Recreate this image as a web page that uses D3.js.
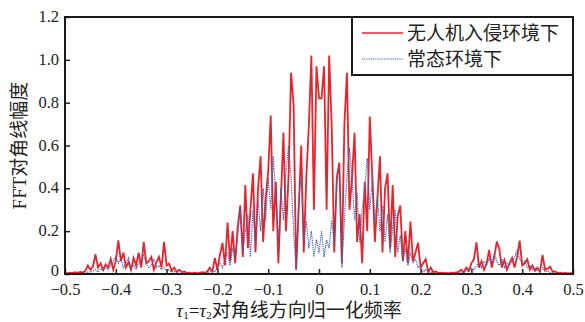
<!DOCTYPE html>
<html lang="zh">
<head>
<meta charset="utf-8">
<title>FFT diagonal</title>
<script src="https://d3js.org/d3.v7.min.js"></script>
<style>
  body { margin: 0; background: #fff; }
  text { font-family: "Liberation Serif", "Noto Sans CJK SC", serif; fill: #222; }
</style>
</head>
<body>
<svg id="chart"></svg>
<script>
// sampled every 0.005 from -0.5 to 0.5
var xStart = -0.5, xStep = 0.005;

var intrusion = [
  0.005,0.003,0.006,0.004,0.008,0.005,0.010,0.006,0.015,0.040,
  0.020,0.035,0.092,0.030,0.050,0.020,0.045,0.030,0.070,0.020,
  0.060,0.157,0.060,0.100,0.030,0.056,0.020,0.075,0.040,0.100,
  0.030,0.150,0.050,0.060,0.080,0.020,0.056,0.080,0.030,0.150,
  0.040,0.048,0.015,0.030,0.010,0.020,0.008,0.012,0.005,0.006,
  0.003,0.006,0.004,0.005,0.008,0.006,0.012,0.030,0.010,0.075,
  0.020,0.090,0.145,0.040,0.240,0.060,0.200,0.050,0.220,0.320,
  0.080,0.415,0.120,0.300,0.470,0.100,0.400,0.550,0.150,0.350,
  0.480,0.740,0.200,0.430,0.050,0.350,0.660,0.200,0.450,0.940,
  0.790,0.020,0.300,0.600,0.100,0.450,0.690,1.020,0.300,0.970,
  0.820,
  0.820,0.970,0.300,1.020,0.690,0.100,0.450,0.520,0.050,0.700,
  0.940,0.300,0.450,0.660,0.150,0.280,0.050,0.430,0.200,0.735,
  0.450,0.150,0.350,0.550,0.100,0.400,0.470,0.120,0.415,0.080,
  0.270,0.320,0.060,0.200,0.050,0.245,0.060,0.100,0.146,0.030,
  0.050,0.069,0.010,0.030,0.008,0.012,0.005,0.006,0.004,0.005,
  0.003,0.006,0.005,0.008,0.010,0.020,0.008,0.030,0.015,0.050,
  0.070,0.148,0.030,0.060,0.020,0.050,0.112,0.030,0.080,0.151,
  0.117,0.030,0.066,0.020,0.050,0.075,0.030,0.080,0.156,0.040,
  0.050,0.069,0.020,0.040,0.015,0.030,0.010,0.089,0.020,0.025,
  0.034,0.010,0.012,0.004,0.006,0.003,0.005,0.003,0.004,0.003
];

var normal = [
  0.002,0.001,0.002,0.001,0.002,0.001,0.002,0.003,0.005,0.010,
  0.008,0.015,0.020,0.010,0.025,0.015,0.030,0.020,0.040,0.060,
  0.084,0.050,0.070,0.030,0.050,0.075,0.030,0.040,0.020,0.050,
  0.060,0.087,0.050,0.030,0.040,0.070,0.030,0.040,0.020,0.030,
  0.015,0.020,0.010,0.012,0.005,0.003,0.002,0.003,0.002,0.001,
  0.002,0.001,0.002,0.001,0.002,0.003,0.005,0.010,0.020,0.010,
  0.030,0.050,0.030,0.070,0.100,0.040,0.120,0.080,0.180,0.310,
  0.100,0.200,0.280,0.080,0.300,0.150,0.350,0.200,0.400,0.250,
  0.450,0.300,0.550,0.350,0.150,0.400,0.250,0.480,0.600,0.450,
  0.200,0.020,0.350,0.450,0.150,0.250,0.120,0.200,0.080,0.160,
  0.100,
  0.200,0.080,0.160,0.120,0.250,0.150,0.420,0.500,0.030,0.250,
  0.450,0.590,0.450,0.250,0.380,0.150,0.300,0.400,0.540,0.300,
  0.450,0.250,0.360,0.200,0.320,0.150,0.280,0.100,0.220,0.300,
  0.100,0.180,0.060,0.120,0.040,0.100,0.050,0.070,0.030,0.040,
  0.010,0.020,0.008,0.010,0.003,0.002,0.003,0.002,0.001,0.002,
  0.001,0.002,0.003,0.002,0.003,0.005,0.010,0.015,0.010,0.030,
  0.020,0.040,0.050,0.030,0.060,0.040,0.070,0.050,0.090,0.060,
  0.040,0.070,0.030,0.050,0.040,0.060,0.080,0.110,0.070,0.050,
  0.060,0.030,0.040,0.020,0.030,0.015,0.020,0.030,0.010,0.015,
  0.008,0.005,0.002,0.001,0.002,0.001,0.002,0.001,0.002,0.001
];

var xTicks = [-0.5,-0.4,-0.3,-0.2,-0.1,0,0.1,0.2,0.3,0.4,0.5];
var yTicks = [0,0.2,0.4,0.6,0.8,1.0,1.2];
var seriesNames = ["无人机入侵环境下", "常态环境下"];

var width = 585, height = 322;
var border = {left:65, right:12, top:17, bottom:48};

var svg = d3.select("#chart").attr("width",width).attr("height",height);

var xScale = d3.scaleLinear().domain([-0.5,0.5]).range([border.left, width-border.right]);
var yScale = d3.scaleLinear().domain([0,1.2]).range([height-border.bottom, border.top]);

function fmt(v){
  var s = v===0 ? "0" : Math.abs(v).toFixed(1);
  return v<0 ? "\u2212"+s : s;
}

svg.append("clipPath").attr("id","plotClip").append("rect")
  .attr("x",border.left).attr("y",border.top)
  .attr("width",xScale(0.5)-border.left).attr("height",yScale(0)-border.top);

var line = d3.line()
  .x(function(d,i){ return xScale(xStart + i*xStep); })
  .y(function(d){ return yScale(d); });

var plot = svg.append("g").attr("clip-path","url(#plotClip)");

plot.append("path").datum(intrusion)
  .attr("d",line).attr("fill","none")
  .attr("stroke","#e8232b").attr("stroke-width",1.8)
  .attr("stroke-linejoin","miter");

plot.append("path").datum(normal)
  .attr("d",line).attr("fill","none")
  .attr("stroke","#3d5fae").attr("stroke-width",1.2)
  .attr("stroke-dasharray","1.2,1");

// axes
var xAxis = d3.axisBottom(xScale).tickValues(xTicks).tickFormat(fmt).tickSizeInner(-5).tickSizeOuter(0).tickPadding(9);
var yAxis = d3.axisLeft(yScale).tickValues(yTicks).tickFormat(fmt).tickSizeInner(-5).tickSizeOuter(0).tickPadding(6);

var gx = svg.append("g").attr("transform","translate(0,"+yScale(0)+")").call(xAxis);
var gy = svg.append("g").attr("transform","translate("+border.left+",0)").call(yAxis);
[gx,gy].forEach(function(g){
  g.select(".domain").remove();
  g.selectAll(".tick line").attr("stroke","#222").attr("stroke-width",1.5);
  g.selectAll(".tick text").attr("font-size",16.5).attr("fill","#333")
    .style("font-family","'Liberation Serif', serif");
});
gy.selectAll(".tick text").attr("dy",function(d){ return d===0 ? "0.12em" : "0.28em"; });

// frame
svg.append("rect")
  .attr("x",xScale(-0.5)).attr("y",yScale(1.2))
  .attr("width",xScale(0.5)-xScale(-0.5)).attr("height",yScale(0)-yScale(1.2))
  .attr("fill","none").attr("stroke","#1a1a1a").attr("stroke-width",2);

// legend
var lg = svg.append("g");
lg.append("rect").attr("x",352).attr("y",yScale(1.2)).attr("width",xScale(0.5)-352).attr("height",58)
  .attr("fill","#fff").attr("stroke","#1a1a1a").attr("stroke-width",2);
lg.append("line").attr("x1",362).attr("x2",403).attr("y1",33).attr("y2",33)
  .attr("stroke","#e8232b").attr("stroke-width",1.3);
lg.append("line").attr("x1",362).attr("x2",403).attr("y1",59).attr("y2",59)
  .attr("stroke","#3d5fae").attr("stroke-width",1.1).attr("stroke-dasharray","1.2,1");
lg.selectAll("text.lab").data(seriesNames).enter().append("text")
  .attr("x",407).attr("y",function(d,i){ return 40 + i*26; })
  .attr("font-size",19).text(function(d){ return d; });

// axis titles
svg.append("text")
  .attr("transform","translate(26,"+((yScale(0)+yScale(1.2))/2)+") rotate(-90)")
  .attr("text-anchor","middle").attr("font-size",19)
  .text("FFT对角线幅度");

var xt = svg.append("text").attr("x",(xScale(-0.5)+xScale(0.5))/2 - 30).attr("y",316.5)
  .attr("text-anchor","middle").attr("font-size",19);
xt.append("tspan").attr("font-style","italic").text("τ");
xt.append("tspan").attr("font-size",11).attr("dy",2).text("1");
xt.append("tspan").attr("dy",-2).text("=");
xt.append("tspan").attr("font-style","italic").text("τ");
xt.append("tspan").attr("font-size",11).attr("dy",2).text("2");
xt.append("tspan").attr("dy",-2).text("对角线方向归一化频率");
</script>
</body>
</html>
